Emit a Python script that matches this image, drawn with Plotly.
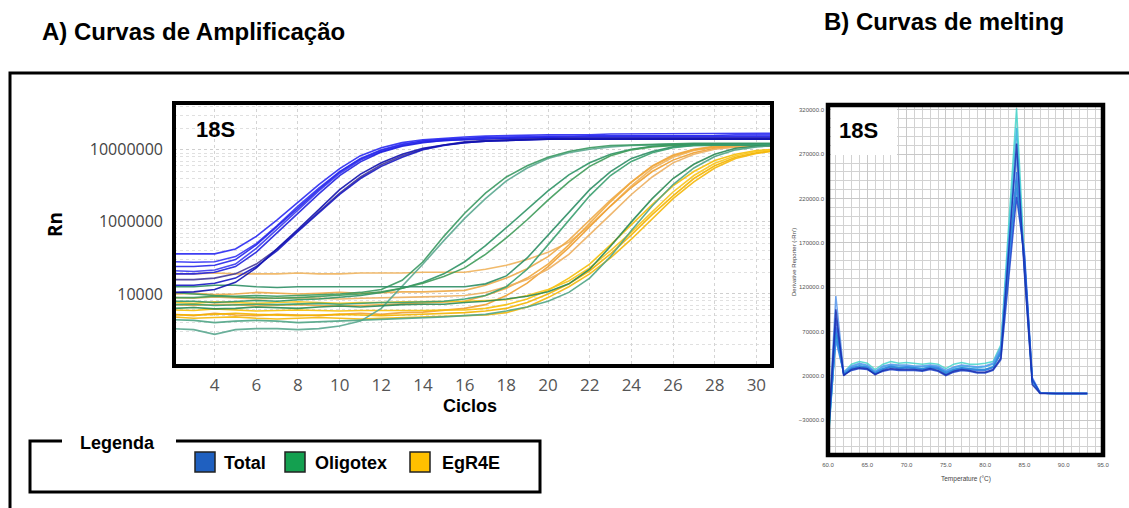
import plotly.graph_objects as go

W, H = 1129, 508


def px(x):
    return x / W


def py(y):
    return 1 - y / H


# ---------------- Amplification data (Rn per cycle) ----------------
cycles = list(range(2, 32))

total_1 = [3.6e5, 3.6e5, 3.6e5, 4.2e5, 6.3e5, 1.07e6, 1.9e6, 3.3e6, 5.5e6, 8.3e6, 1.07e7, 1.26e7, 1.38e7, 1.45e7, 1.51e7,
           1.55e7, 1.58e7, 1.58e7, 1.62e7, 1.62e7, 1.62e7, 1.66e7, 1.66e7, 1.66e7, 1.66e7, 1.66e7, 1.7e7, 1.7e7, 1.7e7, 1.7e7]
total_2 = [2.8e5, 2.75e5, 2.8e5, 3.3e5, 5.0e5, 8.9e5, 1.66e6, 2.95e6, 5.0e6, 7.6e6, 1.0e7, 1.2e7, 1.32e7, 1.41e7, 1.45e7,
           1.48e7, 1.51e7, 1.51e7, 1.55e7, 1.55e7, 1.55e7, 1.58e7, 1.58e7, 1.58e7, 1.58e7, 1.58e7, 1.58e7, 1.62e7, 1.62e7, 1.62e7]
total_3 = [2.4e5, 2.4e5, 2.5e5, 3.0e5, 4.8e5, 8.7e5, 1.58e6, 2.8e6, 4.9e6, 7.4e6, 9.8e6, 1.17e7, 1.32e7, 1.38e7, 1.45e7,
           1.48e7, 1.48e7, 1.51e7, 1.51e7, 1.51e7, 1.55e7, 1.55e7, 1.55e7, 1.55e7, 1.55e7, 1.55e7, 1.55e7, 1.55e7, 1.55e7, 1.55e7]
total_4 = [2.1e5, 2.05e5, 2.15e5, 2.6e5, 4.3e5, 7.9e5, 1.48e6, 2.7e6, 4.7e6, 7.2e6, 9.5e6, 1.15e7, 1.29e7, 1.35e7, 1.41e7,
           1.45e7, 1.45e7, 1.48e7, 1.51e7, 1.51e7, 1.51e7, 1.51e7, 1.51e7, 1.51e7, 1.51e7, 1.51e7, 1.51e7, 1.51e7, 1.51e7, 1.51e7]
total_5 = [1.9e5, 1.9e5, 2.0e5, 2.4e5, 3.8e5, 7.1e5, 1.35e6, 2.45e6, 4.4e6, 6.8e6, 9.3e6, 1.12e7, 1.26e7, 1.35e7, 1.38e7,
           1.41e7, 1.45e7, 1.45e7, 1.48e7, 1.48e7, 1.48e7, 1.48e7, 1.48e7, 1.48e7, 1.48e7, 1.48e7, 1.48e7, 1.48e7, 1.48e7, 1.48e7]
total_6 = [1.58e5, 1.58e5, 1.66e5, 1.9e5, 2.6e5, 4.2e5, 7.6e5, 1.38e6, 2.5e6, 4.2e6, 6.2e6, 8.3e6, 1.02e7, 1.17e7, 1.29e7,
           1.35e7, 1.38e7, 1.41e7, 1.45e7, 1.45e7, 1.45e7, 1.45e7, 1.45e7, 1.45e7, 1.45e7, 1.45e7, 1.45e7, 1.45e7, 1.45e7, 1.45e7]
total_7 = [1.32e5, 1.32e5, 1.41e5, 1.66e5, 2.4e5, 4.0e5, 7.4e5, 1.32e6, 2.4e6, 4.0e6, 5.9e6, 7.9e6, 1.0e7, 1.15e7, 1.26e7,
           1.32e7, 1.35e7, 1.38e7, 1.41e7, 1.41e7, 1.41e7, 1.41e7, 1.41e7, 1.41e7, 1.41e7, 1.41e7, 1.41e7, 1.41e7, 1.41e7, 1.41e7]
total_8 = [1.05e5, 1.07e5, 1.15e5, 1.45e5, 2.3e5, 4.2e5, 7.9e5, 1.48e6, 2.8e6, 4.6e6, 6.6e6, 8.7e6, 1.05e7, 1.17e7, 1.26e7,
           1.32e7, 1.35e7, 1.38e7, 1.41e7, 1.41e7, 1.41e7, 1.41e7, 1.41e7, 1.41e7, 1.41e7, 1.41e7, 1.41e7, 1.41e7, 1.41e7, 1.41e7]

oligo_1 = [3.3e4, 3.2e4, 2.75e4, 3.2e4, 3.3e4, 3.3e4, 3.2e4, 3.3e4, 3.6e4, 4.2e4, 6.3e4, 1.26e5, 2.6e5, 5.5e5, 1.12e6,
           2.1e6, 3.7e6, 5.6e6, 7.6e6, 9.1e6, 1.02e7, 1.1e7, 1.15e7, 1.17e7, 1.2e7, 1.2e7, 1.2e7, 1.2e7, 1.2e7, 1.2e7]
oligo_2 = [1.05e5, 1.0e5, 9.5e4, 9.3e4, 9.5e4, 9.3e4, 9.5e4, 9.8e4, 1.0e5, 1.05e5, 1.15e5, 1.55e5, 2.8e5, 6.3e5, 1.32e6,
           2.5e6, 4.2e6, 6.0e6, 7.9e6, 9.5e6, 1.07e7, 1.15e7, 1.17e7, 1.2e7, 1.23e7, 1.23e7, 1.23e7, 1.23e7, 1.23e7, 1.23e7]
oligo_3 = [7.9e4, 7.9e4, 7.6e4, 7.9e4, 8.1e4, 7.9e4, 8.3e4, 8.5e4, 8.9e4, 9.5e4, 1.05e5, 1.2e5, 1.45e5, 1.9e5, 2.8e5,
           4.7e5, 8.3e5, 1.51e6, 2.7e6, 4.5e6, 6.6e6, 8.7e6, 1.02e7, 1.12e7, 1.17e7, 1.2e7, 1.2e7, 1.2e7, 1.2e7, 1.2e7]
oligo_4 = [8.9e4, 8.9e4, 9.3e4, 9.1e4, 8.9e4, 8.7e4, 8.9e4, 9.3e4, 9.5e4, 1.0e5, 1.07e5, 1.2e5, 1.41e5, 1.74e5, 2.3e5,
           3.55e5, 6.0e5, 1.07e6, 2.0e6, 3.6e6, 5.9e6, 8.3e6, 1.0e7, 1.1e7, 1.15e7, 1.17e7, 1.17e7, 1.17e7, 1.17e7, 1.17e7]
oligo_5 = [1.26e5, 1.26e5, 1.32e5, 1.32e5, 1.26e5, 1.23e5, 1.26e5, 1.26e5, 1.29e5, 1.26e5, 1.26e5, 1.26e5, 1.26e5, 1.26e5,
           1.26e5, 1.38e5, 1.78e5, 3.16e5, 6.6e5, 1.35e6, 2.8e6, 5.0e6, 7.6e6, 9.5e6, 1.1e7, 1.15e7, 1.17e7, 1.17e7, 1.17e7, 1.17e7]
oligo_6 = [7.1e4, 7.2e4, 6.9e4, 7.1e4, 7.2e4, 7.1e4, 7.2e4, 7.4e4, 7.2e4, 7.4e4, 7.6e4, 7.6e4, 7.8e4, 7.9e4, 8.5e4,
           9.5e4, 1.26e5, 2.2e5, 4.8e5, 1.05e6, 2.3e6, 4.4e6, 6.9e6, 9.1e6, 1.07e7, 1.15e7, 1.17e7, 1.17e7, 1.17e7, 1.17e7]
oligo_7 = [6.3e4, 6.5e4, 6.2e4, 6.3e4, 6.6e4, 6.5e4, 6.3e4, 6.6e4, 6.8e4, 6.6e4, 6.9e4, 7.1e4, 7.2e4, 7.2e4, 7.6e4,
           7.9e4, 8.5e4, 9.3e4, 1.07e5, 1.38e5, 2.2e5, 4.6e5, 1.0e6, 2.1e6, 4.0e6, 6.3e6, 8.7e6, 1.05e7, 1.12e7, 1.15e7]
oligo_8 = [4.4e4, 4.3e4, 4.0e4, 4.2e4, 4.3e4, 4.2e4, 4.0e4, 4.1e4, 4.2e4, 4.3e4, 4.4e4, 4.5e4, 4.6e4, 4.8e4, 5.0e4,
           5.2e4, 5.8e4, 6.6e4, 7.9e4, 1.05e5, 1.66e5, 3.3e5, 7.6e5, 1.66e6, 3.3e6, 5.6e6, 8.1e6, 1.0e7, 1.1e7, 1.15e7]

egr_1 = [1.9e5, 1.9e5, 1.95e5, 1.9e5, 1.9e5, 1.9e5, 1.95e5, 1.9e5, 1.9e5, 1.95e5, 1.95e5, 1.95e5, 2.0e5, 2.0e5, 2.0e5,
         2.2e5, 2.5e5, 3.0e5, 3.8e5, 5.2e5, 8.9e5, 1.66e6, 3.16e6, 5.5e6, 7.9e6, 9.8e6, 1.1e7, 1.15e7, 1.17e7, 1.17e7]
egr_2 = [1.0e5, 1.02e5, 9.8e4, 1.0e5, 1.05e5, 1.02e5, 1.0e5, 1.02e5, 1.05e5, 1.02e5, 1.05e5, 1.07e5, 1.07e5, 1.1e5, 1.12e5,
         1.32e5, 1.66e5, 2.24e5, 3.3e5, 5.6e5, 1.05e6, 2.0e6, 3.6e6, 6.0e6, 8.5e6, 1.02e7, 1.12e7, 1.15e7, 1.17e7, 1.17e7]
egr_3 = [7.1e4, 6.9e4, 7.2e4, 7.1e4, 6.8e4, 6.9e4, 7.1e4, 6.9e4, 6.8e4, 6.9e4, 7.1e4, 7.2e4, 7.4e4, 7.6e4, 7.9e4,
         9.5e4, 1.2e5, 1.66e5, 2.6e5, 4.8e5, 9.5e5, 1.9e6, 3.55e6, 5.9e6, 8.3e6, 1.0e7, 1.1e7, 1.12e7, 1.15e7, 1.15e7]
egr_4 = [5.2e4, 5.0e4, 5.4e4, 5.1e4, 5.0e4, 5.2e4, 5.1e4, 5.0e4, 5.2e4, 5.4e4, 5.2e4, 5.5e4, 5.6e4, 5.9e4, 6.3e4,
         7.1e4, 9.5e4, 1.41e5, 2.4e5, 4.4e5, 8.5e5, 1.66e6, 3.0e6, 5.0e6, 7.2e6, 9.1e6, 1.05e7, 1.1e7, 1.12e7, 1.12e7]
egr_5 = [6.0e4, 5.9e4, 6.2e4, 6.0e4, 5.8e4, 5.9e4, 6.0e4, 5.9e4, 5.8e4, 5.9e4, 5.9e4, 5.8e4, 5.9e4, 6.0e4, 6.0e4,
         6.3e4, 7.1e4, 8.5e4, 1.12e5, 1.66e5, 2.6e5, 4.8e5, 9.1e5, 1.74e6, 3.16e6, 5.0e6, 7.1e6, 8.7e6, 9.8e6, 1.02e7]
egr_6 = [5.2e4, 5.1e4, 5.2e4, 5.4e4, 5.2e4, 5.1e4, 5.0e4, 5.1e4, 5.2e4, 5.1e4, 5.0e4, 5.1e4, 5.2e4, 5.4e4, 5.5e4,
         5.8e4, 6.3e4, 7.6e4, 1.0e5, 1.38e5, 2.1e5, 3.6e5, 6.6e5, 1.26e6, 2.3e6, 4.0e6, 6.0e6, 7.9e6, 9.1e6, 9.8e6]
egr_7 = [7.6e4, 7.4e4, 7.8e4, 7.6e4, 7.4e4, 7.6e4, 7.8e4, 7.6e4, 7.4e4, 7.6e4, 7.6e4, 7.8e4, 7.8e4, 7.9e4, 7.9e4,
         8.1e4, 8.3e4, 9.5e4, 1.15e5, 1.51e5, 2.3e5, 4.0e5, 7.2e5, 1.38e6, 2.6e6, 4.4e6, 6.5e6, 8.3e6, 9.5e6, 1.0e7]
egr_8 = [4.8e4, 4.6e4, 4.7e4, 4.8e4, 4.6e4, 4.5e4, 4.6e4, 4.7e4, 4.6e4, 4.5e4, 4.6e4, 4.7e4, 4.8e4, 4.9e4, 5.0e4,
         5.1e4, 5.5e4, 6.6e4, 8.9e4, 1.26e5, 1.9e5, 3.16e5, 5.75e5, 1.1e6, 2.1e6, 3.6e6, 5.6e6, 7.6e6, 8.9e6, 9.8e6]
egr_9 = [8.9e4, 8.7e4, 9.1e4, 8.9e4, 8.5e4, 8.7e4, 8.9e4, 8.7e4, 8.5e4, 8.7e4, 8.9e4, 8.9e4, 9.1e4, 9.3e4, 9.5e4,
         1.05e5, 1.26e5, 1.58e5, 2.2e5, 3.55e5, 6.6e5, 1.26e6, 2.4e6, 4.2e6, 6.6e6, 8.7e6, 1.02e7, 1.1e7, 1.12e7, 1.15e7]

total_curves = [total_1, total_2, total_3, total_4, total_5, total_6, total_7, total_8]
oligo_curves = [oligo_1, oligo_2, oligo_3, oligo_4, oligo_5, oligo_6, oligo_7, oligo_8]
egr_curves = [egr_1, egr_2, egr_3, egr_4, egr_5, egr_6, egr_7, egr_8, egr_9]

total_colors = ["#2a2af2", "#3434f5", "#2626ea", "#3a3af0", "#2020e0", "#44399a", "#1818c4", "#1212b0"]
oligo_colors = ["#5aa890", "#3a9a62", "#2f9466", "#3f9c5a", "#2e8f66", "#3aa070", "#2b8a55", "#4fa586"]
egr_colors = ["#f0b35c", "#eeaa48", "#f1a83c", "#f0a030", "#f7bf08", "#f5b400", "#f9c51c", "#f6b80a", "#eeb060"]

# amplification axis labels
cycle_ticks = [4, 6, 8, 10, 12, 14, 16, 18, 20, 22, 24, 26, 28, 30]
rn_tick_values = [1e5, 1e6, 1e7]
rn_tick_labels = ["10000", "1000000", "10000000"]

# ---------------- Melting data (derivative reporter per °C) ----------------
melt_temp = list(range(60, 94))

melt_1 = [-55000, 65000, 24000, 33000, 36000, 34000, 27000, 33000, 36000, 34000, 35000, 34000, 33000, 34000, 33000, 28000, 33000,
          35000, 33000, 33000, 34000, 36000, 55000, 190000, 322000, 150000, 14000, 1000, 0, 0, 0, 0, 0, 0]
melt_2 = [-60000, 70000, 22000, 30000, 33000, 31000, 24000, 30000, 32000, 31000, 31000, 30000, 30000, 31000, 30000, 25000, 29000,
          31000, 30000, 29000, 30000, 33000, 50000, 175000, 300000, 140000, 12000, 500, 0, 0, 0, 0, 0, 0]
melt_3 = [-45000, 75000, 21000, 28000, 30000, 29000, 22000, 27000, 30000, 28000, 29000, 28000, 27000, 29000, 28000, 22000, 26000,
          28000, 27000, 26000, 26000, 29000, 45000, 150000, 250000, 145000, 15000, 500, 0, 0, 0, 0, 0, 0]
melt_4 = [-48000, 60000, 23000, 29000, 31000, 30000, 24000, 28000, 31000, 29000, 30000, 29000, 28000, 30000, 29000, 24000, 27000,
          29000, 28000, 27000, 27000, 30000, 48000, 140000, 232000, 160000, 18000, 1000, 0, 0, 0, 0, 0, 0]
melt_5 = [-47000, 110000, 24000, 31000, 34000, 32000, 25000, 31000, 33000, 32000, 32000, 31000, 31000, 32000, 31000, 26000, 30000,
          32000, 31000, 30000, 31000, 34000, 52000, 170000, 268000, 142000, 13000, 800, 0, 0, 0, 0, 0, 0]
melt_6 = [-53000, 68000, 22000, 28000, 31000, 29000, 23000, 28000, 30000, 29000, 29000, 29000, 28000, 29000, 28000, 23000, 27000,
          29000, 28000, 27000, 27000, 30000, 46000, 155000, 240000, 150000, 14000, 500, 0, 0, 0, 0, 0, 0]
melt_7 = [-52000, 85000, 21000, 26000, 28000, 27000, 22000, 25000, 27000, 26000, 26000, 26000, 25000, 27000, 25000, 20000, 24000,
          26000, 25000, 23000, 23000, 26000, 38000, 130000, 222000, 155000, 16000, 500, 0, 0, 0, 0, 0, 0]
melt_8 = [-50000, 95000, 20000, 27000, 29000, 28000, 21000, 26000, 28000, 27000, 27000, 27000, 26000, 28000, 26000, 21000, 25000,
          27000, 26000, 24000, 24000, 27000, 40000, 160000, 282000, 135000, 10000, 0, 0, 0, 0, 0, 0, 0]

melt_curves = [melt_1, melt_2, melt_3, melt_4, melt_5, melt_6, melt_7, melt_8]
melt_colors = ["#45d6cc", "#38b6e2", "#2f6ee6", "#3a7cf0", "#5898ee", "#2b8fd6", "#1c44cc", "#1a2eb0"]

legend_labels = ["Total", "Oligotex", "EgR4E"]
legend_colors = ["#1f60c0", "#14a050", "#ffc000"]

# ---------------- Figure ----------------
fig = go.Figure()

for curves, colors in ((egr_curves, egr_colors), (oligo_curves, oligo_colors), (total_curves, total_colors)):
    for vals, col in zip(curves, colors):
        fig.add_trace(go.Scatter(x=cycles, y=vals, mode="lines", line=dict(color=col, width=1.6),
                                 opacity=0.9, xaxis="x", yaxis="y", hoverinfo="skip", showlegend=False))

for vals, col in zip(melt_curves, melt_colors):
    fig.add_trace(go.Scatter(x=melt_temp, y=vals, mode="lines", line=dict(color=col, width=1.5),
                             opacity=0.85, xaxis="x2", yaxis="y2", hoverinfo="skip", showlegend=False))

TITLE_FONT = "Liberation Sans, Arial, sans-serif"
TICK_FONT = "Open Sans, Liberation Sans, sans-serif"

minor_log = [m * 10 ** e for e in (4, 5, 6, 7) for m in range(2, 10)]

fig.update_layout(
    width=W, height=H, margin=dict(l=0, r=0, t=0, b=0),
    paper_bgcolor="white", plot_bgcolor="white", showlegend=False,
    xaxis=dict(domain=[px(174), px(772)], range=[2.05, 30.75], tickmode="array", tickvals=cycle_ticks,
               ticks="", ticklabelstandoff=7, tickfont=dict(family=TICK_FONT, size=17, color="#555555"),
               showgrid=True, gridcolor="#d4d4d4", griddash="dot", gridwidth=1, zeroline=False,
               showline=False, anchor="y", automargin=False),
    yaxis=dict(domain=[py(366), py(103)], type="log", range=[4.0, 7.65], tickmode="array",
               tickvals=rn_tick_values, ticktext=rn_tick_labels, ticks="", ticklabelstandoff=10,
               tickfont=dict(family=TICK_FONT, size=16, color="#444444"),
               showgrid=True, gridcolor="#cfcfcf", griddash="dot", gridwidth=1,
               minor=dict(tickmode="array", tickvals=minor_log, showgrid=True, gridcolor="#e0e0e0",
                          griddash="dot", ticks=""),
               zeroline=False, showline=False, anchor="x", automargin=False),
    xaxis2=dict(domain=[px(828), px(1103)], range=[60, 95], tick0=60, dtick=5, tickformat=".1f",
                ticks="", ticklabelstandoff=5, tickfont=dict(family=TITLE_FONT, size=6, color="#555555"),
                showgrid=True, gridcolor="#c8c8c8", gridwidth=1,
                minor=dict(dtick=1, showgrid=True, gridcolor="#d2d2d2", ticks=""),
                zeroline=False, showline=False, anchor="y2", automargin=False),
    yaxis2=dict(domain=[py(455), py(105)], range=[-69500, 325600], tick0=20000, dtick=50000, tickformat=".1f",
                ticks="", ticklabelstandoff=3, tickfont=dict(family=TITLE_FONT, size=6, color="#555555"),
                showgrid=True, gridcolor="#c8c8c8", gridwidth=1,
                minor=dict(tick0=0, dtick=10000, showgrid=True, gridcolor="#d2d2d2", ticks=""),
                zeroline=False, showline=False, anchor="x2", automargin=False),
)

shapes = []
# outer frame (top and left)
shapes.append(dict(type="path", xref="paper", yref="paper",
                   path=f"M {px(10)} {py(508)} L {px(10)} {py(73)} L {px(1129)} {py(73)}",
                   line=dict(color="black", width=3)))
# white label box inside melting plot
shapes.append(dict(type="rect", xref="paper", yref="paper", x0=px(831), x1=px(897), y0=py(155), y1=py(107),
                   fillcolor="white", line=dict(width=0), layer="above"))
# plot frames
shapes.append(dict(type="rect", xref="paper", yref="paper", x0=px(174), x1=px(772), y0=py(366), y1=py(103),
                   line=dict(color="black", width=4), layer="above"))
shapes.append(dict(type="rect", xref="paper", yref="paper", x0=px(828), x1=px(1103), y0=py(455), y1=py(105),
                   line=dict(color="black", width=4.5), layer="above"))
# legend box with gap for its title
shapes.append(dict(type="path", xref="paper", yref="paper",
                   path=(f"M {px(62)} {py(441)} L {px(30)} {py(441)} L {px(30)} {py(492)} "
                         f"L {px(540)} {py(492)} L {px(540)} {py(441)} L {px(176)} {py(441)}"),
                   line=dict(color="black", width=3)))
# legend colour swatches
for x0, col in zip((195, 285, 410), legend_colors):
    shapes.append(dict(type="rect", xref="paper", yref="paper", x0=px(x0), x1=px(x0 + 20), y0=py(472), y1=py(452),
                       fillcolor=col, line=dict(color="#222222", width=1.5)))
fig.update_layout(shapes=shapes)

annotations = []


def ann(text, x, y, size, xanchor="center", angle=0, color="black", family=TITLE_FONT):
    annotations.append(dict(text=text, x=px(x), y=py(y), xref="paper", yref="paper", showarrow=False,
                            xanchor=xanchor, yanchor="middle", textangle=angle,
                            font=dict(family=family, size=size, color=color)))


ann("<b>A) Curvas de Amplificação</b>", 40, 31, 24, xanchor="left")
ann("<b>B) Curvas de melting</b>", 822, 21, 24, xanchor="left")
ann("<b>18S</b>", 215, 129, 22)
ann("<b>18S</b>", 858, 130, 22)
ann("<b>Ciclos</b>", 470, 406, 18)
ann("<b>Rn</b>", 55, 225, 19, angle=-90, family=TICK_FONT)
ann("<b>Legenda</b>", 117, 443, 18)
for x0, lab in zip((222, 313, 440), legend_labels):
    ann(f"<b>{lab}</b>", x0, 463, 18, xanchor="left")
ann("Temperature (°C)", 966, 479, 6.5, color="#444444")
ann("Derivative Reporter (-Rn')", 794, 262, 6, angle=-90, color="#444444")
fig.update_layout(annotations=annotations)

fig.write_html("out.html", config={"displayModeBar": False},
               post_script="document.body.style.margin='0px';document.body.style.overflow='hidden';")
